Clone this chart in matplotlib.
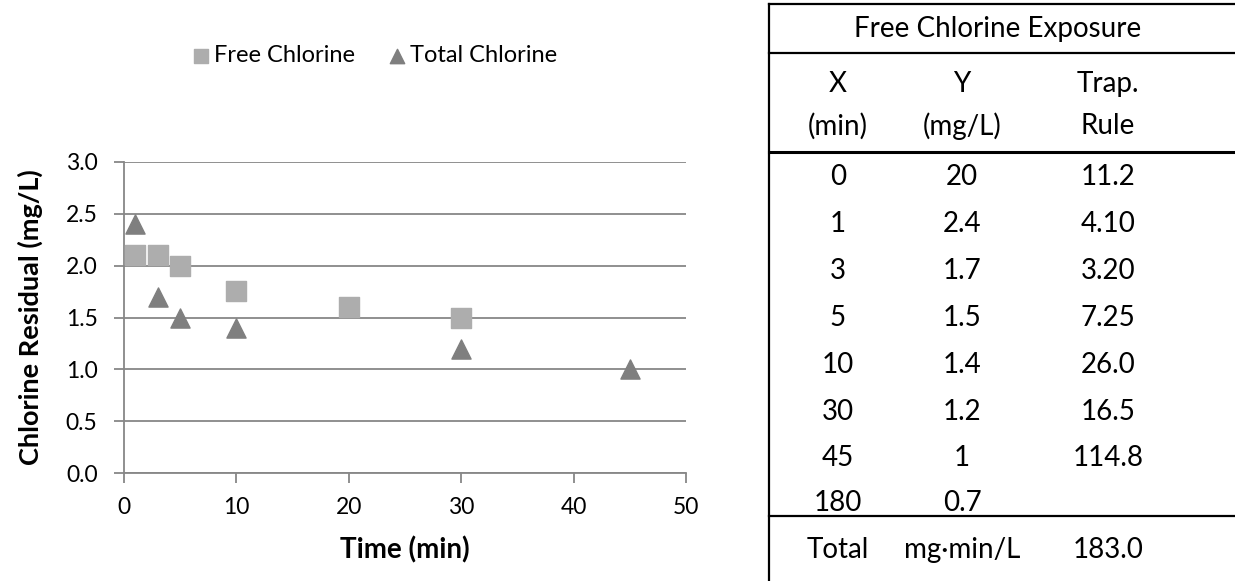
import matplotlib.pyplot as plt
from matplotlib.lines import Line2D

plt.rcParams['font.family'] = ['Lato', 'DejaVu Sans']

# chart data
free_x = [1, 3, 5, 10, 20, 30]
free_y = [2.1, 2.1, 2.0, 1.76, 1.6, 1.5]
total_x = [1, 3, 5, 10, 30, 45]
total_y = [2.4, 1.7, 1.5, 1.4, 1.2, 1.0]

# table data
table_title = 'Free Chlorine Exposure'
head1 = ['X', 'Y', 'Trap.']
head2 = ['(min)', '(mg/L)', 'Rule']
col_x = ['0', '1', '3', '5', '10', '30', '45', '180']
col_y = ['20', '2.4', '1.7', '1.5', '1.4', '1.2', '1', '0.7']
col_trap = ['11.2', '4.10', '3.20', '7.25', '26.0', '16.5', '114.8', '']
total_row = ['Total', 'mg\u00b7min/L', '183.0']

W, H = 1235, 581
fig = plt.figure(figsize=(12.35, 5.81), dpi=100)
ax = fig.add_axes([124 / W, 1 - 473 / H, (686 - 124) / W, (473 - 162) / H])

grid_c = '#878787'
ax.scatter(free_x, free_y, marker='s', s=200, color='#ADADAD', label='Free Chlorine', zorder=3)
ax.scatter(total_x, total_y, marker='^', s=190, color='#7F7F7F', label='Total Chlorine', zorder=3)

ax.set_xlim(0, 50)
ax.set_ylim(0, 3.0)
ax.set_xticks(range(0, 51, 10))
ax.set_yticks([0, 0.5, 1.0, 1.5, 2.0, 2.5, 3.0])
ax.set_yticklabels(['0.0', '0.5', '1.0', '1.5', '2.0', '2.5', '3.0'])
ax.yaxis.grid(True, color=grid_c, linewidth=1.3)
ax.set_axisbelow(True)
for s in ['top', 'right']:
    ax.spines[s].set_visible(False)
for s in ['left', 'bottom']:
    ax.spines[s].set_color(grid_c)
    ax.spines[s].set_linewidth(1.3)
ax.tick_params(axis='both', colors=grid_c, labelcolor='black', labelsize=16.5, length=7, width=1.3)
ax.tick_params(axis='x', pad=10)
ax.tick_params(axis='y', pad=12)
ax.set_xlabel('Time (min)', fontsize=20, fontweight='bold', va='center')
ax.set_ylabel('Chlorine Residual (mg/L)', fontsize=19.5, fontweight='bold', va='center')
ax.xaxis.set_label_coords(0.5, -0.248)
ax.yaxis.set_label_coords(-0.167, 0.5)

leg = ax.legend(loc='center', bbox_to_anchor=(0.443, 1.343), ncol=2, frameon=False, fontsize=17,
                handletextpad=0.05, columnspacing=1.3, handlelength=1.0, markerscale=0.75,
                borderaxespad=0)

# table
def fx(px):
    return px / W

def fy(py):
    return 1 - py / H

for y in [4, 53, 152, 516]:
    lw = 2.2 if y == 152 else 1.6
    fig.add_artist(Line2D([fx(769), 1], [fy(y), fy(y)], color='black', linewidth=lw))
fig.add_artist(Line2D([fx(769), fx(769)], [fy(4), 0], color='black', linewidth=1.6))

cx = [fx(838), fx(962), fx(1108)]
tkw = dict(fontsize=20, ha='center', va='center')
fig.text(fx(998), fy(29), table_title, **tkw)
for i in range(3):
    fig.text(cx[i], fy(84), head1[i], **tkw)
    fig.text(cx[i], fy(126), head2[i], **tkw)
    fig.text(cx[i], fy(550), total_row[i], **tkw)
row_y = [177, 224, 271, 318, 365, 412, 458, 503]
for j, ry in enumerate(row_y):
    fig.text(cx[0], fy(ry), col_x[j], **tkw)
    fig.text(cx[1], fy(ry), col_y[j], **tkw)
    fig.text(cx[2], fy(ry), col_trap[j], **tkw)

fig.savefig('out.png', dpi=100)
